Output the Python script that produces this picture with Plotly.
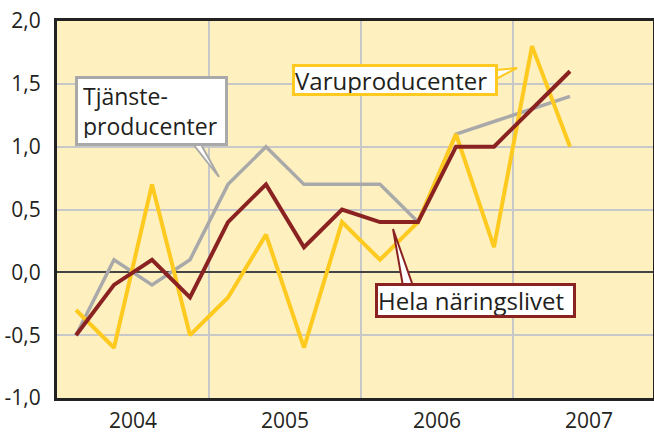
import plotly.graph_objects as go

years = [2004, 2004, 2004, 2004, 2005, 2005, 2005, 2005, 2006, 2006, 2006, 2006, 2007, 2007]
quarters = [1, 2, 3, 4, 1, 2, 3, 4, 1, 2, 3, 4, 1, 2]
tjanste = [-0.5, 0.1, -0.1, 0.1, 0.7, 1.0, 0.7, 0.7, 0.7, 0.4, 1.1, 1.2, 1.3, 1.4]
varu = [-0.3, -0.6, 0.7, -0.5, -0.2, 0.3, -0.6, 0.4, 0.1, 0.4, 1.1, 0.2, 1.8, 1.0]
hela = [-0.5, -0.1, 0.1, -0.2, 0.4, 0.7, 0.2, 0.5, 0.4, 0.4, 1.0, 1.0, 1.3, 1.6]
year_labels = ["2004", "2005", "2006", "2007"]
y_ticks = [-1.0, -0.5, 0.0, 0.5, 1.0, 1.5, 2.0]
y_tick_labels = ["-1,0", "-0,5", "0,0", "0,5", "1,0", "1,5", "2,0"]

x = [y + (q - 0.5) / 4 for y, q in zip(years, quarters)]

GRAY = "#A9A9A9"
YELLOW = "#FFCA1F"
RED = "#8A2222"
BG = "#FEF0BF"
TXT = "#231F20"

fig = go.Figure()
fig.add_trace(go.Scatter(x=x, y=tjanste, mode="lines", line=dict(color=GRAY, width=3.5)))
fig.add_trace(go.Scatter(x=x, y=varu, mode="lines", line=dict(color=YELLOW, width=4)))
fig.add_trace(go.Scatter(x=x, y=hela, mode="lines", line=dict(color=RED, width=4)))

# plot area in pixels
L, R, T, B = 57, 653, 21, 398
W, H = 654, 432
def px(xp):
    return (xp - L) / (R - L)
def py(yp):
    return (B - yp) / (B - T)

def wedge(pts, color):
    path = "M " + " L ".join(f"{px(a):.4f},{py(b):.4f}" for a, b in pts) + " Z"
    fig.add_shape(type="path", path=path, xref="paper", yref="paper",
                  fillcolor="white", line=dict(color=color, width=2), layer="above")

wedge([(189, 139), (219, 177), (198, 139)], GRAY)
wedge([(496, 70), (517, 68), (496, 79)], YELLOW)
wedge([(403, 286), (393, 229), (413, 286)], RED)

BW = 3
def box(text, x0, x1, y0, y1, color, pad=0, size=24):
    fig.add_annotation(text=text, xref="paper", yref="paper",
                       x=px((x0 + x1) / 2), y=py((y0 + y1) / 2),
                       xanchor="center", yanchor="middle", showarrow=False,
                       align="left", width=x1 - x0 - 2 * BW - 2 * pad, height=y1 - y0 - 2 * BW,
                       bgcolor="white", bordercolor=color, borderwidth=BW, borderpad=pad,
                       font=dict(size=size, color=TXT, family="Open Sans"))

box("Tjänste-<br>producenter", 75, 228, 81, 141, GRAY, pad=5, size=23)
box("Varuproducenter", 292, 498, 64, 96, YELLOW)
box("Hela näringslivet", 375, 576, 283, 318, RED)

fig.update_layout(
    width=W, height=H,
    margin=dict(l=L, r=W - R, t=T, b=H - B, autoexpand=False),
    paper_bgcolor="white", plot_bgcolor=BG,
    showlegend=False,
    font=dict(family="Open Sans", size=21, color=TXT),
)
fig.update_xaxes(
    range=[2004, 2004 + (R - L) / 152], automargin=False,
    tickvals=[int(v) + 0.5 for v in year_labels], ticktext=year_labels,
    showgrid=False, zeroline=False,
    ticks="outside", ticklen=2, tickcolor="rgba(0,0,0,0)",
    showline=True, mirror=True, linecolor="#222222", linewidth=3,
    minor=dict(tickvals=[2005, 2006, 2007], showgrid=True, gridcolor="#C8C8C8", gridwidth=2, ticks=""),
)
fig.update_yaxes(
    range=[-1, 2], automargin=False, tickvals=y_ticks, ticktext=y_tick_labels,
    showgrid=True, gridcolor="#C8C8C8", gridwidth=2,
    zeroline=True, zerolinecolor="#444444", zerolinewidth=1.5,
    ticks="outside", ticklen=9, tickcolor="rgba(0,0,0,0)",
    showline=True, mirror=True, linecolor="#222222", linewidth=3,
)

fig.write_html("out.html", config={"displayModeBar": False},
               post_script="document.body.style.margin='0';document.body.style.overflow='hidden';")
